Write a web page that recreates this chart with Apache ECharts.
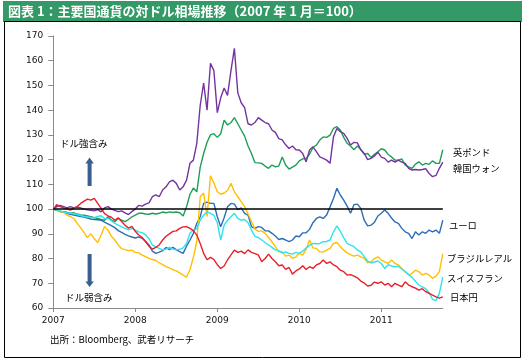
<!DOCTYPE html>
<html><head><meta charset="utf-8">
<script src="https://cdn.jsdelivr.net/npm/echarts@6/dist/echarts.min.js"></script>
<style>html,body{margin:0;padding:0;background:#fff}#c{width:530px;height:361px}</style>
</head><body><div id="c"></div>
<script>
// semi-monthly periods, Jan 2007 .. end Sep 2011 (115 points)
const periods = [];
for (let i = 0; i < 115; i++) {
  const y = 2007 + Math.floor(i / 24);
  const m = Math.floor((i % 24) / 2) + 1;
  periods.push(y + '/' + String(m).padStart(2, '0') + (i % 2 ? '後' : '前'));
}
const yTicks = [60, 70, 80, 90, 100, 110, 120, 130, 140, 150, 160, 170];
const seriesNames = ['英ポンド', '韓国ウォン', 'ユーロ', 'ブラジルレアル', 'スイスフラン', '日本円'];

const gbp = [100,99.6,99.2,98.9,98.7,98.3,98.5,98,97.6,97.5,
  97.2,96.9,96.5,96.2,95.8,95.5,96.9,95.5,94.9,96.2,
  95.5,94.9,95.8,96.9,97.6,98.3,98.3,98,97.9,98.3,
  98,98.3,98.8,98.5,98.9,98.6,98.8,98.5,97.2,100.9,
  106,108.5,107,117,122.5,127,130,130.5,129,130.5,
  136,134,135,137,134.5,132,129.5,125.5,122.5,118.8,
  118.7,118.5,117.4,116.5,117.8,117.1,117.4,121.1,117.8,116.2,
  117,117.8,119.5,120.3,120.5,122.2,124.9,125.9,127.9,129.2,
  129,129.9,132.6,133.3,132,129,126.6,125.5,124,125.5,
  124.1,122.2,122.5,120.9,122.2,123.2,124.4,123.9,122.1,121.1,
  119.8,119.8,120.3,117.8,117.1,116.5,118.2,119.1,117.8,118.5,
  118.1,119.5,118.5,118.5,124];
const krw = [100,101,101.5,101,100.5,101,100.5,100.8,100.5,100,
  99.7,99.5,99.3,99.8,98.9,100.5,101,100,99.5,99,
  99.3,98.5,97.8,99,100,101.5,101.2,102,102.5,105,
  105.7,105,107.7,109,111,111.7,110.4,107.7,109,111.7,
  118.5,119.8,126.6,142,151,140,159,156,139,145,
  149,146,156,165,147,143,141,134.5,134,135,
  137,136,135,134.5,132,131,128.5,128,126,124.5,
  125.5,124,123.9,122.5,119.1,123.9,125.2,123.2,121.1,120.5,
  119.8,118.5,129.2,132.6,131.3,130.6,128.6,125.9,127,126.8,
  124,122.5,120,120.5,121.5,123,121,120.5,119,119.8,
  119,119.8,119,118.5,116.5,115.8,116,115.8,116,116.3,
  114.4,113.1,113.6,116.5,119];
const eur = [100,99.5,99,98.8,98.3,97.9,97.6,97.3,97,96.8,
  96.4,96,95.8,95.7,95.5,94.7,94,93.3,92.5,91.3,
  90.6,89.8,89.2,88.7,88.3,88.8,88.2,87,85.5,83,
  82.1,82.6,83.2,84.5,83.6,84.5,83.6,82.8,82.1,85,
  87.5,90.2,94.2,96.9,102.3,102.8,102.3,102.3,96.9,92.9,
  96.5,100.9,102.3,102,99.8,100.5,98.3,97.6,92.9,92.2,
  92.9,92.6,91.2,91.2,90.2,89.1,87.7,88.1,87.5,86.8,
  87.5,89.1,88.8,90.4,90.4,91.8,94.5,96.2,96.9,96.2,
  97.6,100.9,104.3,108.4,105.7,103.6,101.2,98.3,101.8,102,
  100.3,95.5,93.2,93.5,94.7,97.2,98.3,99.6,98.3,96.4,
  94.8,94.2,92.2,90.8,90.2,88.1,90.8,89.5,90.8,90.2,
  91.5,90.8,91.5,90.2,95.5];
const brl = [100,99.5,98.9,98.6,97.6,97,96.2,94.2,92.5,90.5,
  88.5,90,88,86.5,89.5,93,91.5,89,87.5,85.5,
  84,83.6,83.2,83.4,82.5,82.3,81.4,80.8,80.1,79.6,
  79.2,78.3,77.5,76.7,76.2,75.5,75,74.2,73.3,72.5,
  75.5,80.5,87,105,106.5,97,113.5,110.5,107,106,
  106.5,107.5,110.4,107,105,103,101,98,95,92,
  91,91.2,90.2,88.5,86.8,84.8,82.7,82.7,81,81.4,
  80.1,80.7,82.1,81.4,83.7,87.5,84.3,84.1,82.7,82.7,
  83.4,84.1,86.1,86.5,84.8,83.4,82.3,81.6,81,81.4,
  80.7,80.1,78.3,78.7,80,80.7,79.4,78.7,78,79.4,
  78,77.4,76,74.7,73.3,74,75.3,74.7,73.3,74,
  73.3,72,72.9,74.7,82];
const chf = [100,99.6,99.2,98.8,98.5,98.3,98.1,97.8,97.4,97,
  96.8,96.6,96.5,97,97.3,96.2,96.2,95.3,94.2,93.5,
  92.8,92.2,91.6,92.2,91.5,90.8,90.5,89.6,88,85.4,
  84.7,84.1,83.5,83.8,84.5,83.8,83.5,83.8,84.3,86.1,
  90.2,91.5,92,95.5,97.5,98.9,98.3,97.5,94.5,87.5,
  93.5,95.5,96.9,98.3,96.2,95.5,95.8,94.5,91.5,89,
  88.5,87.5,86.5,85.5,84.5,83.5,83.2,82.3,82.7,82.1,
  81.8,82.5,82.1,83,84.3,85.3,86.1,86,86.1,86.8,
  86.9,87.5,90.8,93.2,91,88.5,86.1,85.4,84.8,83.5,
  82.7,80.8,79,78.2,78.6,79,78,76,77.5,77,
  76.7,76.9,75.8,74.7,73.5,72.4,70.8,69.3,68.5,67.8,
  66.2,63.5,63,66,72.5];
const jpy = [100,101.8,101,100.5,100.2,99.6,100.5,101,102.3,103.2,
  104,103.6,104.3,102.3,100.3,98.2,97.3,96.7,95.5,96.5,
  95,93.5,92.3,93,91,89.5,88.5,86.8,85,83.8,
  84.5,85.5,87.5,89,90,91,91.2,92.2,92.8,92.9,
  92.2,91.3,89.5,86.1,82.1,79.5,80.5,79.6,77.5,76,
  77,79.5,81.5,83.4,82.5,83,82,83.5,82.5,82,
  81.5,78.7,80,81.8,80,78.7,77.1,77.4,75.6,76.4,
  73.7,75,75.8,77.1,75.6,76.7,76,77.4,78,79.4,
  78,78.7,77.4,76.7,75.3,74.7,73.3,73.5,72.9,72.2,
  70.9,70.1,68.9,69.2,70.5,70,70.6,69.3,70,68.6,
  70,69.3,68.6,70.6,69.3,68.6,68,67.2,67.8,66.6,
  65.9,65.2,64.5,64,64.5];

const seriesData = [gbp, krw, eur, brl, chf, jpy];
const colors = ['#1f9e57', '#7434a0', '#2d6db3', '#ffc000', '#2ee3ee', '#e8202a'];

const chart = echarts.init(document.getElementById('c'), null, {renderer: 'canvas'});
const axisFont = 'DejaVu Sans';
const jpFont = '"Noto Sans CJK JP"';

const series = seriesData.map((d, k) => ({
  name: seriesNames[k], type: 'line', data: d, symbol: 'none',
  lineStyle: {width: 1.4, color: colors[k]}, itemStyle: {color: colors[k]},
  z: 3
}));
series[0].markLine = {
  silent: true, symbol: 'none', label: {show: false},
  lineStyle: {color: '#000', width: 1.5, type: 'solid'},
  data: [{yAxis: 100}], z: 5
};

const labelPos = [[453, 152], [453, 168], [449, 225], [447, 258], [447, 278], [450, 297]];
const graphics = [
  {type: 'rect', shape: {x: 3, y: 1, width: 519, height: 21}, style: {fill: '#339966'}, z: 0},
  {type: 'rect', shape: {x: 4.5, y: 21.5, width: 516, height: 336}, style: {fill: 'none', stroke: '#000', lineWidth: 1}, z: 0},
  {type: 'text', style: {text: '図表 1：主要国通貨の対ドル相場推移（2007 年 1 月＝100）', x: 8, y: 11.5,
    fill: '#fff', font: 'bold 13px ' + jpFont, align: 'left', verticalAlign: 'middle'}, z: 10},
  {type: 'text', style: {text: 'ドル強含み', x: 60, y: 143, fill: '#000', font: '9.5px ' + jpFont, align: 'left', verticalAlign: 'middle'}, z: 10},
  {type: 'text', style: {text: 'ドル弱含み', x: 65, y: 297, fill: '#000', font: '9.5px ' + jpFont, align: 'left', verticalAlign: 'middle'}, z: 10},
  {type: 'polygon', shape: {points: [[89.6,157.5],[93.8,163.5],[91.6,163.5],[91.6,186],[87.6,186],[87.6,163.5],[85.4,163.5]]}, style: {fill: '#3a5f8f'}, z: 10},
  {type: 'polygon', shape: {points: [[89.6,287],[93.8,281.5],[91.6,281.5],[91.6,254],[87.6,254],[87.6,281.5],[85.4,281.5]]}, style: {fill: '#3a5f8f'}, z: 10},
  {type: 'text', style: {text: '出所：Bloomberg、武者リサーチ', x: 50, y: 339.5, fill: '#000', font: '9.5px ' + jpFont, align: 'left', verticalAlign: 'middle'}, z: 10}
];
seriesNames.forEach((n, k) => graphics.push({type: 'text', style: {text: n, x: labelPos[k][0], y: labelPos[k][1],
  fill: '#000', font: '9.3px ' + jpFont, align: 'left', verticalAlign: 'middle'}, z: 10}));

chart.setOption({
  animation: false,
  backgroundColor: '#fff',
  grid: {left: 53.3, top: 36, width: 389.5, height: 272, containLabel: false},
  xAxis: {
    type: 'category', data: periods, boundaryGap: false,
    axisLine: {show: true, lineStyle: {color: '#8a8a8a', width: 1}},
    axisTick: {show: true, inside: false, length: 4, interval: (i) => i % 24 === 0, lineStyle: {color: '#8a8a8a'}},
    axisLabel: {interval: (i) => i % 24 === 0, formatter: (v) => v.slice(0, 4), margin: 8,
      color: '#111', fontFamily: axisFont, fontSize: 9},
    splitLine: {show: false}
  },
  yAxis: {
    type: 'value', min: yTicks[0], max: yTicks[yTicks.length - 1], interval: 10,
    axisLine: {show: true, lineStyle: {color: '#8a8a8a', width: 1}},
    axisTick: {show: true, inside: false, length: 5, lineStyle: {color: '#8a8a8a'}},
    axisLabel: {margin: 10, color: '#111', fontFamily: axisFont, fontSize: 9},
    splitLine: {show: false}
  },
  series: series,
  graphic: graphics
});
</script></body></html>
